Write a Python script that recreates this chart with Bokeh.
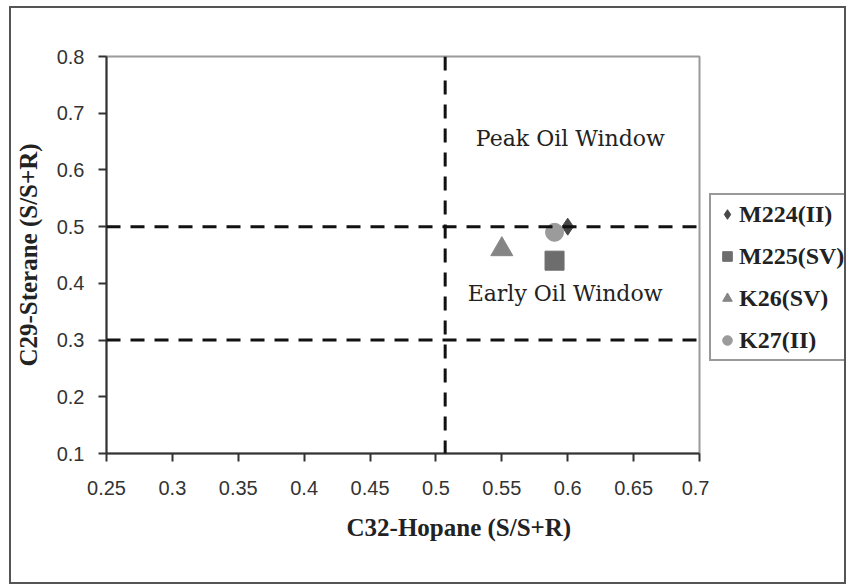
from bokeh.plotting import figure
from bokeh.layouts import row
from bokeh.models import Span, Label, Legend, LegendItem, FixedTicker, Range1d, Title
from bokeh.embed import file_html
from bokeh.resources import INLINE

# ---- data ----
samples = ["M224(II)", "M225(SV)", "K26(SV)", "K27(II)"]
hopane = [0.60, 0.59, 0.55, 0.59]          # C32-Hopane (S/S+R)
sterane = [0.50, 0.44, 0.46, 0.49]         # C29-Sterane (S/S+R)
markers = ["diamond", "square", "triangle", "circle"]
colors = ["#474747", "#6d6d6d", "#858585", "#9b9b9b"]
sizes = [17, 19, 22, 18]

x_ticks = [0.25, 0.3, 0.35, 0.4, 0.45, 0.5, 0.55, 0.6, 0.65, 0.7]
y_ticks = [0.1, 0.2, 0.3, 0.4, 0.5, 0.6, 0.7, 0.8]
x_labels = ["0.25", "0.3", "0.35", "0.4", "0.45", "0.5", "0.55", "0.6", "0.65", "0.7"]
y_labels = ["0.1", "0.2", "0.3", "0.4", "0.5", "0.6", "0.7", "0.8"]

v_threshold = 0.507
h_thresholds = [0.5, 0.3]
zone_texts = ["Peak Oil Window", "Early Oil Window"]
zone_x = [0.602, 0.598]
zone_y = [0.655, 0.382]

SERIF = "Liberation Serif"
SANS = "Liberation Sans"

p = figure(frame_width=593, frame_height=397, output_backend="svg",
           toolbar_location=None,
           x_range=Range1d(0.25, 0.7), y_range=Range1d(0.1, 0.8),
           min_border_left=95, min_border_top=48, min_border_right=10,
           min_border_bottom=129, background_fill_color="white",
           border_fill_color="white")

p.xgrid.visible = False
p.ygrid.visible = False
p.outline_line_color = "#9a9a9a"
p.outline_line_width = 2

p.xaxis.ticker = FixedTicker(ticks=x_ticks)
p.yaxis.ticker = FixedTicker(ticks=y_ticks)
p.xaxis.major_label_overrides = {t: l for t, l in zip(x_ticks, x_labels)}
p.yaxis.major_label_overrides = {t: l for t, l in zip(y_ticks, y_labels)}
for ax in (p.xaxis, p.yaxis):
    ax.axis_line_color = "#333333"
    ax.axis_line_width = 2
    ax.major_tick_line_color = "#333333"
    ax.major_tick_line_width = 2
    ax.major_tick_in = 0
    ax.major_tick_out = 8
    ax.minor_tick_line_color = None
    ax.major_label_text_font = SANS
    ax.major_label_text_font_size = "20px"
    ax.major_label_text_color = "#333333"
p.yaxis.major_label_standoff = 14
p.xaxis.major_label_standoff = 19

p.yaxis.axis_label = "C29-Sterane (S/S+R)"
p.yaxis.axis_label_text_font = SERIF
p.yaxis.axis_label_text_font_style = "bold"
p.yaxis.axis_label_text_font_size = "25px"
p.yaxis.axis_label_text_color = "#222222"
p.yaxis.axis_label_standoff = 12

# x axis title (placed right of centre as in the original)
xtitle = Title(text="C32-Hopane (S/S+R)", align="left", offset=240, standoff=28,
               text_font=SERIF, text_font_style="bold", text_font_size="25px",
               text_color="#222222")
p.add_layout(xtitle, "below")

# threshold lines
p.add_layout(Span(location=v_threshold, dimension="height", line_color="#111111",
                  line_width=3, line_dash="14 10"))
for h in h_thresholds:
    p.add_layout(Span(location=h, dimension="width", line_color="#111111",
                      line_width=3, line_dash="14 10"))

for t, x, y in zip(zone_texts, zone_x, zone_y):
    p.add_layout(Label(x=x, y=y, text=t, text_font="DejaVu Serif",
                       text_font_size="22px", text_color="#222222",
                       text_align="center", text_baseline="middle"))

for hx, sy, m, c, sz in zip(hopane, sterane, markers, colors, sizes):
    p.scatter([hx], [sy], marker=m, size=sz, fill_color=c, line_color=c)

# legend panel (separate canvas to the right of the plot frame);
# its renderers carry the same data but its ranges keep them out of view
lf = figure(width=135, height=574, output_backend="svg", toolbar_location=None,
            x_axis_type=None, y_axis_type=None, min_border=0,
            x_range=Range1d(5, 6), y_range=Range1d(5, 6),
            background_fill_color="white", border_fill_color="white")
lf.grid.visible = False
lf.outline_line_color = None
items = []
for s, hx, sy, m, c, sz in zip(samples, hopane, sterane, markers, colors, sizes):
    r = lf.scatter(x=[hx], y=[sy], marker=m, size=sz, fill_color=c, line_color=c)
    items.append(LegendItem(label=s, renderers=[r]))

legend = Legend(items=items, location=(0, 92), orientation="vertical",
                glyph_width=24, glyph_height=30, label_height=30,
                label_standoff=0, spacing=12, padding=4, margin=0,
                label_text_font=SERIF, label_text_font_style="bold",
                label_text_font_size="24px", label_text_color="#222222",
                border_line_color="#333333", border_line_width=2,
                background_fill_color="white", background_fill_alpha=1)
lf.add_layout(legend)

layout = row(p, lf, spacing=0)
layout.styles = {"border": "2px solid #555", "margin": "6px 0px 0px 9px"}

open("out.html", "w").write(file_html(layout, INLINE))
